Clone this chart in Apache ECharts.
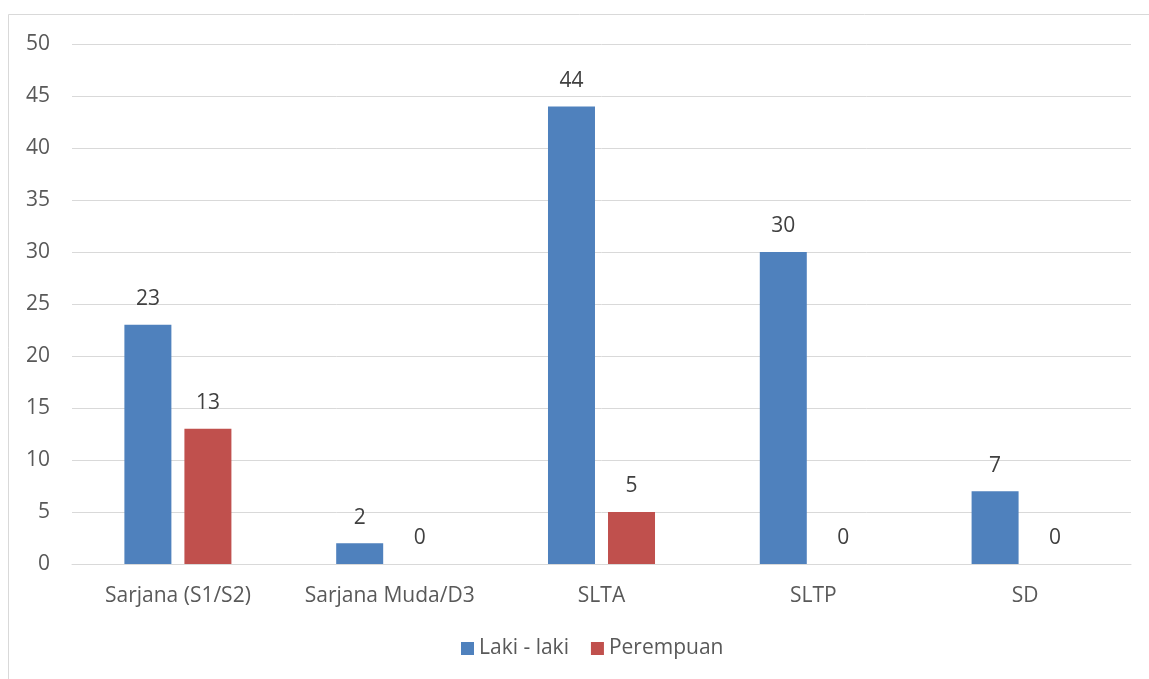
<!DOCTYPE html>
<html>
<head>
<meta charset="utf-8">
<script src="https://cdn.jsdelivr.net/npm/echarts@6/dist/echarts.min.js"></script>
<style>html,body{margin:0;padding:0;background:#fff}#c{width:1149px;height:679px}</style>
</head>
<body>
<div id="c"></div>
<script>
const categories = ['Sarjana (S1/S2)', 'Sarjana Muda/D3', 'SLTA', 'SLTP', 'SD'];
const lakiLaki = [23, 2, 44, 30, 7];
const perempuan = [13, 0, 5, 0, 0];
const seriesNames = ['Laki - laki', 'Perempuan'];
const yTicks = { min: 0, max: 50, interval: 5 };

const font = '"Open Sans", "Liberation Sans", sans-serif';
const txt = '#595959';
const fs = 21;
const chart = echarts.init(document.getElementById('c'), null, { renderer: 'canvas' });
const labelCfg = { show: true, position: 'top', distance: 15, color: '#404040', fontSize: fs, fontFamily: font };
chart.setOption({
  animation: false,
  backgroundColor: '#fff',
  graphic: [{
    type: 'rect', silent: true, z: -1,
    shape: { x: 8.5, y: 14.5, width: 1300, height: 800 },
    style: { fill: 'none', stroke: '#d9d9d9', lineWidth: 1 }
  }],
  grid: { left: 72, right: 18, top: 44, bottom: 115 },
  legend: {
    bottom: 15, left: 456,
    itemWidth: 13, itemHeight: 13, itemGap: 22,
    icon: 'rect',
    textStyle: { color: txt, fontSize: fs, fontFamily: font },
    data: seriesNames
  },
  xAxis: {
    type: 'category', data: categories,
    axisLine: { lineStyle: { color: '#d9d9d9', width: 1 } },
    axisTick: { show: false },
    axisLabel: { color: txt, fontSize: fs, fontFamily: font, margin: 22, interval: 0, hideOverlap: false }
  },
  yAxis: {
    type: 'value', min: yTicks.min, max: yTicks.max, interval: yTicks.interval,
    axisLine: { show: false }, axisTick: { show: false },
    splitLine: { lineStyle: { color: '#d9d9d9', width: 1 } },
    axisLabel: { color: txt, fontSize: fs, fontFamily: font, margin: 22 }
  },
  series: [
    { name: seriesNames[0], type: 'bar', data: lakiLaki, barWidth: 47, barGap: '27.7%',
      itemStyle: { color: '#4F81BD' }, label: labelCfg },
    { name: seriesNames[1], type: 'bar', data: perempuan, barWidth: 47,
      itemStyle: { color: '#C0504D' }, label: labelCfg }
  ]
});
</script>
</body>
</html>
